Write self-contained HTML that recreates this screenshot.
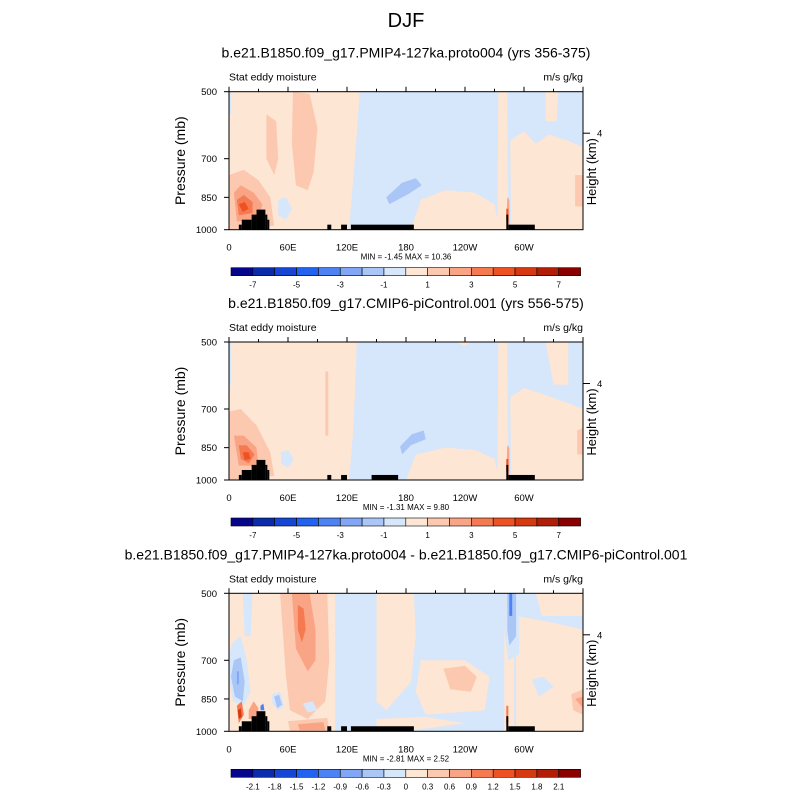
<!DOCTYPE html>
<html><head><meta charset="utf-8"><style>
html,body{margin:0;padding:0;background:#fff;}
svg{display:block;font-family:"Liberation Sans",sans-serif;}
</style></head><body>
<svg id="fig" width="800" height="800" viewBox="0 0 800 800" xmlns="http://www.w3.org/2000/svg">
<text x="406" y="27" font-size="20" text-anchor="middle">DJF</text>
</svg>
<script>
// ---- data ----
const panelTitles = ["b.e21.B1850.f09_g17.PMIP4-127ka.proto004 (yrs 356-375)","b.e21.B1850.f09_g17.CMIP6-piControl.001 (yrs 556-575)","b.e21.B1850.f09_g17.PMIP4-127ka.proto004 - b.e21.B1850.f09_g17.CMIP6-piControl.001"];
const minMaxText = ["MIN =  -1.45  MAX =  10.36","MIN =  -1.31  MAX =   9.80","MIN =  -2.81  MAX =   2.52"];
const lonTicks = [0,60,120,180,240,300];
const lonLabels = ["0","60E","120E","180","120W","60W"];
const presTicks = [500,700,850,1000];
const cbLabelsAB = ["-7","","-5","","-3","","-1","","1","","3","","5","","7"];
const cbLabelsC = ["-2.1","-1.8","-1.5","-1.2","-0.9","-0.6","-0.3","0","0.3","0.6","0.9","1.2","1.5","1.8","2.1"];
const levelColors = ["#06068c","#0a2caa","#1546d6","#2262f0","#4c82f4","#80a6f5","#aac6f7","#d6e6fb","#fde6d4","#fcc9b0","#f9a585","#f57a52","#ee5222","#d63810","#b01e08","#8a0000"];
// terrain: [lon0, lon1, pressure top]
const terrainA = [[10,13,975],[13,23,951],[23,28,927],[28,37,904],[37,39,927],[39,41,951],[100,104,975],[114,120,975],[124,188,975],[282,284,927],[284,311,975]];
const terrainB = [[10,13,975],[13,23,951],[23,28,927],[28,37,904],[37,39,927],[39,41,951],[100,104,975],[114,120,975],[145,172,975],[282,284,927],[284,311,975]];
// field regions: polygons of [lon,p] with color level index
const fieldA = [
 {lv:8,pts:[[0,500],[133,500],[128,700],[122,1000],[0,1000]]},
 {lv:7,pts:[[0,500],[2,500],[2,560],[0,560]]},
 {lv:8,pts:[[185,1000],[195,860],[220,820],[250,830],[270,880],[275,1000]]},
 {lv:8,pts:[[274,500],[283,500],[284,1000],[273,1000]]},
 {lv:8,pts:[[286,640],[300,610],[312,650],[325,620],[345,640],[360,660],[360,1000],[287,1000]]},
 {lv:8,pts:[[322,500],[335,500],[333,580],[322,580]]},
 {lv:9,pts:[[65,500],[82,505],[90,600],[86,750],[80,820],[68,800],[64,650]]},
 {lv:9,pts:[[38,560],[48,580],[50,700],[46,760],[38,700]]},
 {lv:9,pts:[[0,760],[15,740],[30,780],[42,850],[46,980],[0,1000]]},
 {lv:10,pts:[[5,830],[12,800],[25,830],[34,880],[30,950],[8,960]]},
 {lv:11,pts:[[8,860],[15,840],[24,870],[24,920],[10,930]]},
 {lv:12,pts:[[10,880],[16,870],[20,900],[14,915]]},
 {lv:10,pts:[[283,850],[285,860],[285,1000],[282,1000]]},
 {lv:12,pts:[[282,900],[284,900],[284,960],[282,960]]},
 {lv:9,pts:[[352,760],[360,760],[360,890],[352,890]]},
 {lv:7,pts:[[155,860],[175,780],[192,760],[200,800],[185,840],[160,900]]},
 {lv:6,pts:[[160,850],[176,790],[190,772],[196,800],[183,835],[163,880]]},
 {lv:7,pts:[[50,860],[58,850],[64,900],[58,950],[50,930]]}
];
const fieldB = [
 {lv:8,pts:[[0,500],[130,500],[128,650],[126,800],[122,1000],[0,1000]]},
 {lv:7,pts:[[0,500],[2,500],[2,620],[0,620]]},
 {lv:8,pts:[[180,1000],[190,880],[220,850],[250,860],[270,900],[275,1000]]},
 {lv:8,pts:[[274,500],[283,500],[284,1000],[273,1000]]},
 {lv:8,pts:[[286,660],[300,630],[320,650],[345,680],[360,700],[360,1000],[287,1000]]},
 {lv:8,pts:[[322,500],[345,500],[345,620],[330,620]]},
 {lv:8,pts:[[230,500],[246,500],[240,510]]},
 {lv:9,pts:[[0,710],[12,700],[28,760],[42,870],[46,980],[0,1000]]},
 {lv:10,pts:[[5,800],[15,800],[28,850],[30,930],[10,930]]},
 {lv:11,pts:[[10,840],[18,840],[26,880],[20,920],[12,900]]},
 {lv:12,pts:[[14,870],[20,870],[22,900],[16,905]]},
 {lv:9,pts:[[98,580],[101,580],[101,800],[98,800]]},
 {lv:10,pts:[[283,840],[285,850],[285,1000],[282,1000]]},
 {lv:12,pts:[[282,900],[284,900],[284,960],[282,960]]},
 {lv:9,pts:[[354,780],[360,770],[360,880],[354,880]]},
 {lv:7,pts:[[170,860],[185,790],[200,770],[203,820],[185,850],[172,900]]},
 {lv:6,pts:[[174,845],[186,795],[198,780],[200,815],[185,840],[176,880]]},
 {lv:7,pts:[[53,870],[60,860],[66,900],[60,940],[53,920]]}
];
const fieldC = [
 {lv:8,pts:[[0,500],[108,500],[108,1000],[0,1000]]},
 {lv:7,pts:[[4,640],[12,620],[18,700],[22,820],[15,880],[4,860],[0,760],[0,680]]},
 {lv:6,pts:[[5,700],[12,690],[16,780],[14,860],[6,840],[2,760]]},
 {lv:5,pts:[[8,740],[10,740],[10,790],[8,790]]},
 {lv:7,pts:[[14,500],[24,500],[22,620],[16,620]]},
 {lv:9,pts:[[52,500],[100,500],[102,700],[98,860],[80,940],[62,900],[58,760]]},
 {lv:10,pts:[[64,500],[82,500],[88,600],[88,700],[80,740],[68,660]]},
 {lv:11,pts:[[70,530],[76,540],[78,600],[74,640],[70,600]]},
 {lv:7,pts:[[44,830],[52,820],[56,880],[50,900],[44,870]]},
 {lv:6,pts:[[46,840],[51,832],[54,875],[49,890]]},
 {lv:7,pts:[[75,870],[85,860],[90,900],[80,910]]},
 {lv:9,pts:[[60,950],[100,935],[102,1000],[62,1000]]},
 {lv:10,pts:[[70,965],[96,955],[98,995],[72,995]]},
 {lv:11,pts:[[8,880],[13,860],[15,920],[10,960]]},
 {lv:13,pts:[[9,900],[12,890],[13,930],[10,940]]},
 {lv:10,pts:[[20,900],[25,860],[30,890],[28,940],[20,940]]},
 {lv:4,pts:[[32,880],[35,870],[36,900],[32,900]]},
 {lv:8,pts:[[150,500],[188,500],[190,620],[185,780],[160,900],[150,860]]},
 {lv:8,pts:[[195,700],[240,700],[265,760],[260,900],[200,920],[190,820]]},
 {lv:9,pts:[[218,730],[240,720],[252,760],[246,820],[225,810]]},
 {lv:8,pts:[[150,940],[200,930],[240,960],[180,1000],[150,1000]]},
 {lv:8,pts:[[280,500],[290,500],[290,1000],[280,1000]]},
 {lv:8,pts:[[292,560],[330,580],[360,600],[360,1000],[292,1000]]},
 {lv:8,pts:[[312,500],[360,500],[360,560],[318,560]]},
 {lv:7,pts:[[280,500],[295,500],[295,680],[284,700],[280,600]]},
 {lv:6,pts:[[283,500],[292,500],[292,620],[285,650],[283,600]]},
 {lv:4,pts:[[285,500],[288,500],[288,560],[285,560]]},
 {lv:7,pts:[[308,770],[320,760],[330,800],[315,840]]},
 {lv:9,pts:[[348,830],[360,810],[360,920],[350,900]]},
 {lv:10,pts:[[352,850],[360,840],[360,890]]},
 {lv:11,pts:[[282,880],[284,880],[284,960],[282,960]]}
];
const panelTops = [91.7, 342, 593.3];
const fields = [fieldA, fieldB, fieldC];
const terrains = [terrainA, terrainB, terrainA];
const cbLabelSets = [cbLabelsAB, cbLabelsAB, cbLabelsC];

// ---- drawing ----
const NS = "http://www.w3.org/2000/svg";
const svg = document.getElementById('fig');
const X0 = 229, W = 354, H = 138;
function xLon(lon){ return X0 + lon / 360 * W; }
function yP(top, p){ return top + H * Math.log(p / 500) / Math.log(2); }
function mk(tag, attrs, parent){ const e = document.createElementNS(NS, tag); for (const k in attrs) e.setAttribute(k, attrs[k]); (parent||svg).appendChild(e); return e; }
function txt(str, attrs, parent){ const e = mk('text', attrs, parent); e.textContent = str; return e; }

panelTops.forEach((top, i) => {
  const g = mk('g', {});
  
  
  const t = txt(panelTitles[i], {x:406, y:top-34, 'font-size':14, 'text-anchor':'middle'}, g);
  
  
  const s1 = txt('Stat eddy moisture', {x:229, y:top-11, 'font-size':10.5}, g);
  
  
  const s2 = txt('m/s g/kg', {x:583, y:top-11, 'font-size':10.5, 'text-anchor':'end'}, g);
  
  
  const cid = 'clip' + i;
  const cp = mk('clipPath', {id:cid}, g);
  mk('rect', {x:X0, y:top, width:W, height:H}, cp);
  const plot = mk('g', {'clip-path':'url(#'+cid+')'}, g);
  
  
  mk('rect', {x:X0, y:top, width:W, height:H, fill:levelColors[7]}, plot);
  fields[i].forEach(r => {
    const pts = r.pts.map(q => xLon(q[0]).toFixed(1) + ',' + yP(top, q[1]).toFixed(1)).join(' ');
    const pg = mk('polygon', {points:pts, fill:levelColors[r.lv]}, plot);
    
    
  });
  terrains[i].forEach(tr => {
    const rc = mk('rect', {x:xLon(tr[0]), y:yP(top, tr[2]), width:xLon(tr[1])-xLon(tr[0]), height:top+H-yP(top,tr[2]), fill:'#000'}, plot);
    
    
  });
  const fr = mk('rect', {x:X0, y:top, width:W, height:H, fill:'none', stroke:'#000', 'stroke-width':1}, g);
  
  
  for (let lon = 0; lon <= 360; lon += 30) {
    const len = lon % 60 === 0 ? 5 : 3;
    mk('line', {x1:xLon(lon), x2:xLon(lon), y1:top, y2:top-len, stroke:'#000'}, g);
  }
  lonTicks.forEach((lon, k) => {
    const l = txt(lonLabels[k], {x:xLon(lon), y:top+H+21, 'font-size':9.5, 'text-anchor':'middle'}, g);
    
    
  });
  presTicks.forEach(p => {
    const y = yP(top, p);
    mk('line', {x1:X0-5, x2:X0, y1:y, y2:y, stroke:'#000'}, g);
    const l = txt(String(p), {x:217, y:y+3.5, 'font-size':9.5, 'text-anchor':'end'}, g);
    
    
  });
  const ya = txt('Pressure (mb)', {x:0, y:0, 'font-size':14, 'text-anchor':'middle', transform:'translate(185,'+(top+H/2)+') rotate(-90)'}, g);
  
  
  const hy = top + 41.5;
  mk('line', {x1:583, x2:590, y1:hy, y2:hy, stroke:'#000'}, g);
  const h4 = txt('4', {x:597, y:hy+3.5, 'font-size':9.5}, g);
  
  
  const ha = txt('Height (km)', {x:0, y:0, 'font-size':13, 'text-anchor':'middle', transform:'translate(596,'+(top+80)+') rotate(-90)'}, g);
  
  
  const mm = txt(minMaxText[i], {x:406, y:top+H+30, 'font-size':8, 'text-anchor':'middle'}, g);
  
  
  // colorbar
  const cb = mk('g', {}, g);
  
  
  const cbY = top + H + 38, bw = 349.6 / levelColors.length;
  levelColors.forEach((c, k) => {
    const b = mk('rect', {x:231 + k*bw, y:cbY, width:bw, height:8, fill:c, stroke:'#000', 'stroke-width':0.6}, cb);
    
    
  });
  cbLabelSets[i].forEach((lab, k) => {
    if (!lab) return;
    const l = txt(lab, {x:231 + (k+1)*bw, y:cbY+20, 'font-size':8, 'text-anchor':'middle'}, cb);
    
    
  });
});
</script>
</body></html>
